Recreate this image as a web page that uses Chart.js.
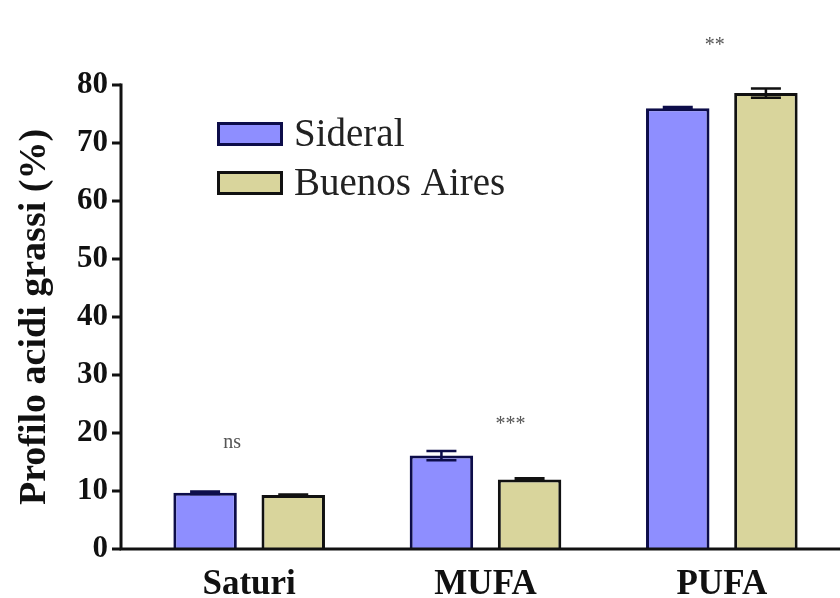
<!DOCTYPE html>
<html>
<head>
<meta charset="utf-8">
<script src="https://cdn.jsdelivr.net/npm/chart.js@4/dist/chart.umd.min.js"></script>
<style>
  html, body { margin: 0; padding: 0; background: #ffffff; }
  #wrap { width: 840px; height: 598px; position: relative; }
</style>
</head>
<body>
<div id="wrap"><canvas id="c" width="840" height="598"></canvas></div>
<script>
// Fatty-acid profile (%) of two cultivars, mean ± SEM
const categories = ['Saturi', 'MUFA', 'PUFA'];
const sideral = [9.7, 16.1, 76.0];
const sideralErr = [0.2, 0.8, 0.2];
const buenosAires = [9.3, 12.0, 78.6];
const buenosAiresErr = [0.1, 0.2, 0.8];
const significance = ['ns', '***', '**'];
// height (in axis units) and horizontal shift (px) of each significance mark
const significanceY = [18.4, 21.5, 86.7];
const significanceDx = [-17, 25, -7];
const yTicks = [0, 10, 20, 30, 40, 50, 60, 70, 80];

const SERIF = '"Liberation Serif", "Times New Roman", serif';

// Axis lines and tick marks, drawn slightly left of the plotting area
const axesPlugin = {
  id: 'axes',
  afterDatasetsDraw(chart) {
    const { ctx, chartArea, scales } = chart;
    const y = scales.y;
    const axisX = chartArea.left - 10;
    const y0 = y.getPixelForValue(0);
    const yTop = y.getPixelForValue(80);
    ctx.save();
    ctx.strokeStyle = '#111';
    ctx.lineWidth = 3;
    ctx.beginPath();
    ctx.moveTo(axisX, yTop - 1.5);
    ctx.lineTo(axisX, y0);
    ctx.lineTo(chartArea.right, y0);
    ctx.stroke();
    yTicks.forEach(v => {
      const py = y.getPixelForValue(v);
      ctx.beginPath();
      ctx.moveTo(axisX - 9, py);
      ctx.lineTo(axisX, py);
      ctx.stroke();
    });
    ctx.restore();
  }
};

// Error whiskers and significance markers
const errorPlugin = {
  id: 'errors',
  afterDatasetsDraw(chart) {
    const { ctx, scales } = chart;
    const y = scales.y;
    const errs = [sideralErr, buenosAiresErr];
    ctx.save();
    chart.data.datasets.forEach((ds, di) => {
      const meta = chart.getDatasetMeta(di);
      meta.data.forEach((bar, i) => {
        const v = ds.data[i];
        const e = errs[di][i];
        const top = y.getPixelForValue(v + e);
        const bot = y.getPixelForValue(v - e);
        const x = bar.x;
        ctx.strokeStyle = di === 0 ? '#0d0d4a' : '#111';
        ctx.lineWidth = 2.5;
        ctx.beginPath();
        ctx.moveTo(x, top); ctx.lineTo(x, bot);
        ctx.moveTo(x - 15, top); ctx.lineTo(x + 15, top);
        ctx.moveTo(x - 15, bot); ctx.lineTo(x + 15, bot);
        ctx.stroke();
      });
    });
    const xs = chart.scales.x;
    ctx.fillStyle = '#555';
    ctx.font = '20px ' + SERIF;
    ctx.textAlign = 'center';
    ctx.textBaseline = 'middle';
    significance.forEach((s, i) => {
      const cx = xs.getPixelForValue(i) + significanceDx[i];
      ctx.fillText(s, cx, y.getPixelForValue(significanceY[i]));
    });
    ctx.restore();
  }
};

// Legend drawn inside the plot, upper left
const legendPlugin = {
  id: 'innerLegend',
  afterDraw(chart) {
    const { ctx } = chart;
    ctx.save();
    ctx.font = '39px ' + SERIF;
    ctx.textBaseline = 'alphabetic';
    ctx.textAlign = 'left';
    chart.data.datasets.forEach((ds, i) => {
      const bx = 218.5, by = 123.5 + i * 49, bw = 63, bh = 21;
      ctx.fillStyle = ds.backgroundColor;
      ctx.fillRect(bx, by, bw, bh);
      ctx.strokeStyle = ds.borderColor;
      ctx.lineWidth = 3;
      ctx.strokeRect(bx, by, bw, bh);
      ctx.fillStyle = '#222';
      ctx.fillText(ds.label, 294, 146 + i * 49);
    });
    ctx.restore();
  }
};

new Chart(document.getElementById('c'), {
  type: 'bar',
  data: {
    labels: categories,
    datasets: [
      {
        label: 'Sideral',
        data: sideral,
        backgroundColor: '#8e8eff',
        borderColor: '#0d0d4a',
        borderWidth: 3,
        borderSkipped: 'bottom'
      },
      {
        label: 'Buenos Aires',
        data: buenosAires,
        backgroundColor: '#d9d59c',
        borderColor: '#111111',
        borderWidth: 3,
        borderSkipped: 'bottom'
      }
    ]
  },
  options: {
    responsive: false,
    animation: false,
    maintainAspectRatio: false,
    layout: { padding: { top: 85, right: 0, left: 0, bottom: 0 } },
    datasets: { bar: { categoryPercentage: 0.746, barPercentage: 0.72 } },
    plugins: { legend: { display: false }, tooltip: { enabled: false } },
    scales: {
      x: {
        grid: { display: false, drawTicks: false },
        border: { display: false },
        ticks: {
          color: '#111',
          font: { family: SERIF, size: 35, weight: 'bold' },
          padding: 15
        },
        afterFit(scale) { scale.height = 49; }
      },
      y: {
        min: 0,
        max: 80,
        grid: { display: false, drawTicks: false },
        border: { display: false },
        afterBuildTicks(scale) { scale.ticks = yTicks.map(v => ({ value: v })); },
        ticks: {
          color: '#111',
          font: { family: SERIF, size: 31, weight: 'bold' },
          padding: 23
        },
        title: {
          display: true,
          text: 'Profilo acidi grassi (%)',
          color: '#111',
          font: { family: SERIF, size: 38, weight: 'bold' },
          padding: { top: 12, bottom: 0 }
        },
        afterFit(scale) { scale.width = 131; }
      }
    }
  },
  plugins: [axesPlugin, errorPlugin, legendPlugin]
});
</script>
</body>
</html>
